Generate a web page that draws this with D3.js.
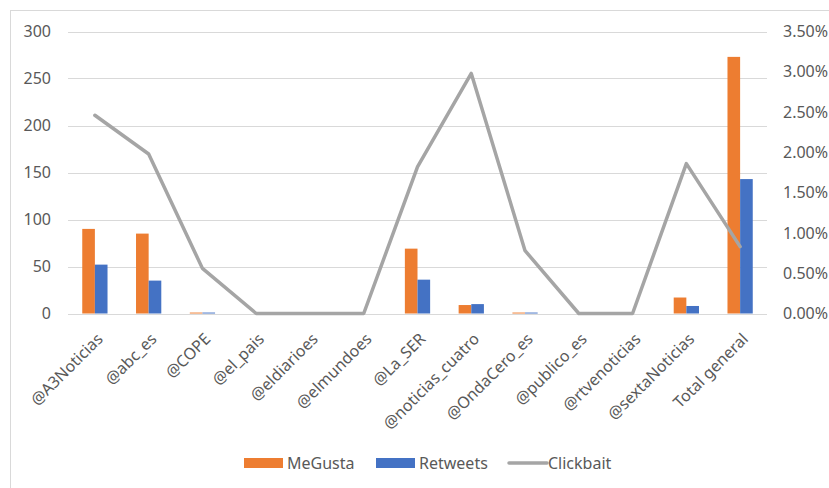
<!DOCTYPE html>
<html>
<head>
<meta charset="utf-8">
<script src="https://cdn.jsdelivr.net/npm/d3@7"></script>
<style>
  body { margin: 0; background: #fff; }
  svg { display: block; font-family: "Noto Sans", sans-serif; }
</style>
</head>
<body>
<div class="chart"></div>
<script>
var categories = ["@A3Noticias", "@abc_es", "@COPE", "@el_pais", "@eldiarioes", "@elmundoes",
  "@La_SER", "@noticias_cuatro", "@OndaCero_es", "@publico_es", "@rtvenoticias",
  "@sextaNoticias", "Total general"];
var meGusta = [90, 85, 1, 0, 0, 0, 69, 9, 1, 0, 0, 17, 273];
var retweets = [52, 35, 1, 0, 0, 0, 36, 10, 1, 0, 0, 8, 143];
var clickbait = [0.0246, 0.0198, 0.0056, 0, 0, 0, 0.0182, 0.0298, 0.0078, 0, 0, 0.0186, 0.0083];
var leftTicks = [0, 50, 100, 150, 200, 250, 300];
var rightTicks = [0, 0.005, 0.01, 0.015, 0.02, 0.025, 0.03, 0.035];
var seriesNames = ["MeGusta", "Retweets", "Clickbait"];
var colors = { MeGusta: "#ED7D31", Retweets: "#4472C4", Clickbait: "#A5A5A5" };

var W = 829, H = 488;
var margin = { top: 31.5, bottom: 174.5, left: 68, right: 62 };
var svg = d3.select(".chart").append("svg").attr("width", W).attr("height", H);

// chart frame
svg.append("rect").attr("x", 10.5).attr("y", 10.5).attr("width", 840).attr("height", 520)
  .attr("fill", "none").attr("stroke", "#D9D9D9");

var x0 = d3.scaleBand().domain(categories).range([margin.left, W - margin.right])
  .paddingInner(0.53).paddingOuter(0.265);
var x1 = d3.scaleBand().domain(["MeGusta", "Retweets"]).range([0, x0.bandwidth()]);
var y = d3.scaleLinear().domain([0, 300]).range([H - margin.bottom, margin.top]);
var y2 = d3.scaleLinear().domain([0, 0.035]).range([H - margin.bottom, margin.top]);

// gridlines
svg.append("g").selectAll("line").data(leftTicks).join("line")
  .attr("x1", margin.left).attr("x2", W - margin.right)
  .attr("y1", d => Math.round(y(d)) + 0.5).attr("y2", d => Math.round(y(d)) + 0.5)
  .attr("stroke", "#D9D9D9").attr("stroke-width", 1);

// left axis labels
var yAxis = svg.append("g").attr("transform", "translate(51,0)")
  .call(d3.axisLeft(y).tickValues(leftTicks).tickSize(0).tickPadding(0));
yAxis.select(".domain").remove();
yAxis.selectAll("text").attr("font-size", 16).attr("fill", "#595959").attr("font-family", "Noto Sans");

// right axis labels
var y2Axis = svg.append("g").attr("transform", "translate(783,0)")
  .call(d3.axisRight(y2).tickValues(rightTicks).tickSize(0).tickPadding(0).tickFormat(d3.format(".2%")));
y2Axis.select(".domain").remove();
y2Axis.selectAll("text").attr("font-size", 16).attr("fill", "#595959").attr("font-family", "Noto Sans");

// bars
var barData = categories.map((c, i) => ({ cat: c, values: [
  { key: "MeGusta", v: meGusta[i] }, { key: "Retweets", v: retweets[i] }] }));
svg.append("g").selectAll("g").data(barData).join("g")
  .attr("transform", d => `translate(${x0(d.cat)},0)`)
  .selectAll("rect").data(d => d.values).join("rect")
  .attr("x", d => x1(d.key)).attr("width", x1.bandwidth())
  .attr("y", d => y(d.v)).attr("height", d => y(0) - y(d.v))
  .attr("fill", d => colors[d.key]);

// baseline
svg.append("line").attr("x1", margin.left).attr("x2", W - margin.right)
  .attr("y1", Math.round(y(0)) + 0.5).attr("y2", Math.round(y(0)) + 0.5)
  .attr("stroke", "#D9D9D9");

// clickbait line
var line = d3.line().x((d, i) => x0(categories[i]) + x0.bandwidth() / 2).y(d => y2(d));
svg.append("path").datum(clickbait).attr("d", line)
  .attr("fill", "none").attr("stroke", colors.Clickbait).attr("stroke-width", 3.5)
  .attr("stroke-linejoin", "round").attr("stroke-linecap", "round");

// category labels
svg.append("g").selectAll("text").data(categories).join("text")
  .attr("transform", d => `translate(${x0(d) + x0.bandwidth() / 2 + 9},340) rotate(-45)`)
  .attr("text-anchor", "end").attr("font-size", 16).attr("fill", "#595959")
  .text(d => d);

// legend
var legend = svg.append("g").attr("font-size", 16).attr("fill", "#595959");
var legendPos = [{ k: "MeGusta", x: 244, tx: 287 }, { k: "Retweets", x: 376, tx: 419 }, { k: "Clickbait", x: 508, tx: 548 }];
legendPos.forEach(p => {
  if (p.k === "Clickbait") {
    legend.append("line").attr("x1", p.x + 1).attr("x2", p.x + 39).attr("y1", 463).attr("y2", 463)
      .attr("stroke", colors[p.k]).attr("stroke-width", 3.5).attr("stroke-linecap", "round");
  } else {
    legend.append("rect").attr("x", p.x).attr("y", 458).attr("width", 39).attr("height", 10)
      .attr("fill", colors[p.k]);
  }
  legend.append("text").attr("x", p.tx).attr("y", 463).attr("dy", "0.35em").text(p.k);
});
</script>
</body>
</html>
